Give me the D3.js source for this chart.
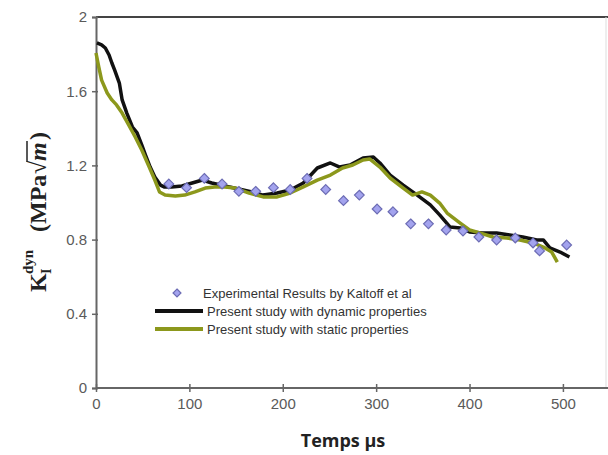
<!DOCTYPE html>
<html>
<head>
<meta charset="utf-8">
<script src="https://cdn.jsdelivr.net/npm/d3@7"></script>
<style>
  body { margin: 0; background: #fff; }
  svg { display: block; }
</style>
</head>
<body>
<svg id="chart" width="608" height="455"></svg>
<script>
// Experimental points (Kalthoff) : time in µs, K in MPa√m
const expTime = [78, 97, 116, 135, 153, 171, 190, 208, 226, 246, 265, 282, 301, 318, 337, 356, 375, 393, 410, 429, 449, 468, 475, 504];
const expK = [1.10, 1.08, 1.13, 1.10, 1.06, 1.06, 1.08, 1.07, 1.13, 1.07, 1.01, 1.04, 0.965, 0.95, 0.885, 0.885, 0.852, 0.846, 0.814, 0.798, 0.809, 0.782, 0.739, 0.771];

// Present study, dynamic properties
const dynTime = [1, 6, 10, 14, 17, 20, 25, 28, 33, 39, 44, 49, 53, 58, 63, 69, 73, 81, 92, 103, 114, 124, 138, 153, 167, 179, 194, 208, 222, 237, 251, 261, 272, 286, 297, 304, 315, 329, 344, 358, 368, 379, 390, 400, 414, 429, 443, 457, 472, 479, 486, 497, 507];
const dynK = [1.86, 1.85, 1.833, 1.795, 1.752, 1.714, 1.644, 1.553, 1.482, 1.407, 1.375, 1.31, 1.256, 1.191, 1.137, 1.094, 1.084, 1.084, 1.089, 1.105, 1.121, 1.105, 1.089, 1.073, 1.057, 1.04, 1.051, 1.067, 1.105, 1.186, 1.213, 1.191, 1.202, 1.24, 1.245, 1.213, 1.148, 1.094, 1.04, 0.987, 0.933, 0.868, 0.863, 0.841, 0.836, 0.836, 0.825, 0.814, 0.798, 0.798, 0.755, 0.733, 0.706];

// Present study, static properties
const staTime = [0, 3, 6, 12, 17, 22, 28, 35, 42, 49, 57, 63, 68, 74, 85, 95, 106, 117, 127, 138, 149, 164, 179, 194, 208, 222, 237, 251, 264, 275, 286, 293, 304, 315, 329, 339, 349, 358, 368, 376, 390, 400, 411, 425, 440, 454, 468, 479, 488, 494];
const staK = [1.806, 1.73, 1.66, 1.59, 1.553, 1.526, 1.482, 1.418, 1.353, 1.283, 1.191, 1.121, 1.057, 1.04, 1.035, 1.04, 1.057, 1.078, 1.084, 1.084, 1.078, 1.051, 1.03, 1.03, 1.051, 1.084, 1.121, 1.148, 1.186, 1.202, 1.229, 1.235, 1.191, 1.132, 1.078, 1.04, 1.057, 1.04, 0.997, 0.943, 0.889, 0.852, 0.836, 0.814, 0.809, 0.798, 0.782, 0.76, 0.733, 0.679];

const xTicks = [0, 100, 200, 300, 400, 500];
const yTicks = [0, 0.4, 0.8, 1.2, 1.6, 2];

const legendLabels = [
  "Experimental Results by Kaltoff et al",
  "Present study with dynamic properties",
  "Present study with static properties"
];

const svg = d3.select("#chart");
const plotLeft = 96, plotRight = 604, plotTop = 17, plotBottom = 388;

const x = d3.scaleLinear().domain([0, 544]).range([plotLeft, plotRight]);
const y = d3.scaleLinear().domain([0, 2]).range([plotBottom, plotTop]);

const darkGreen = "#8c981c";
const tickColor = "#5a5a5a";

// frame: top and right borders
svg.append("line")
  .attr("x1", plotLeft).attr("x2", 608)
  .attr("y1", plotTop).attr("y2", plotTop)
  .attr("stroke", "#444").attr("stroke-width", 2);
svg.append("line")
  .attr("x1", plotRight + 2).attr("x2", plotRight + 2)
  .attr("y1", plotTop).attr("y2", plotBottom)
  .attr("stroke", "#ddd").attr("stroke-width", 1);

// axes
const xAxis = svg.append("g")
  .attr("transform", `translate(0,${plotBottom})`)
  .call(d3.axisBottom(x).tickValues(xTicks).tickSize(4).tickPadding(6).tickFormat(d3.format("d")));
xAxis.select(".domain").attr("d", `M${plotLeft},0H608`);

const yAxis = svg.append("g")
  .attr("transform", `translate(${plotLeft},0)`)
  .call(d3.axisLeft(y).tickValues(yTicks).tickSize(4).tickPadding(5).tickFormat(d => d));

[xAxis, yAxis].forEach(a => {
  a.select(".domain").attr("stroke", "#666").attr("stroke-width", 2);
  a.selectAll(".tick line").attr("stroke", "#666").attr("stroke-width", 1.5);
  a.selectAll(".tick text")
    .attr("fill", tickColor)
    .style("font-family", "Arial, 'Liberation Sans', sans-serif")
    .style("font-size", "15px");
});
xAxis.selectAll(".tick line").attr("y1", -4);
yAxis.selectAll(".tick line").attr("x2", -4).attr("x1", 2);

// curves
const line = d3.line()
  .x(d => x(d[0]))
  .y(d => y(d[1]));

const staticData = staTime.map((t, i) => [t, staK[i]]);
const dynData = dynTime.map((t, i) => [t, dynK[i]]);

svg.append("path")
  .datum(dynData)
  .attr("d", line)
  .attr("fill", "none")
  .attr("stroke", "#111")
  .attr("stroke-width", 3.5)
  .attr("stroke-linejoin", "round");

svg.append("path")
  .datum(staticData)
  .attr("d", line)
  .attr("fill", "none")
  .attr("stroke", darkGreen)
  .attr("stroke-width", 3.5)
  .attr("stroke-linejoin", "round");

// experimental diamonds
const diamond = d3.symbol().type(d3.symbolDiamond2).size(60);
svg.selectAll(".exp")
  .data(expTime.map((t, i) => [t, expK[i]]))
  .join("path")
  .attr("class", "exp")
  .attr("d", diamond)
  .attr("transform", d => `translate(${x(d[0])},${y(d[1])})`)
  .attr("fill", "#a3a3ee")
  .attr("stroke", "#6c6cb4")
  .attr("stroke-width", 1.2);

// legend
const legend = svg.append("g").attr("transform", "translate(155,293)");
const legendFont = "Arial, 'Liberation Sans', sans-serif";

legend.append("path")
  .attr("d", d3.symbol().type(d3.symbolDiamond2).size(40))
  .attr("transform", "translate(22,0)")
  .attr("fill", "#a3a3ee")
  .attr("stroke", "#6c6cb4")
  .attr("stroke-width", 1.2);

legend.append("line")
  .attr("x1", 0).attr("x2", 48).attr("y1", 18).attr("y2", 18)
  .attr("stroke", "#111").attr("stroke-width", 4);
legend.append("line")
  .attr("x1", 0).attr("x2", 48).attr("y1", 36).attr("y2", 36)
  .attr("stroke", darkGreen).attr("stroke-width", 4);

legend.selectAll(".leg-text")
  .data(legendLabels)
  .join("text")
  .attr("class", "leg-text")
  .attr("x", (d, i) => i === 0 ? 48 : 52)
  .attr("y", (d, i) => i * 18)
  .attr("dy", "0.35em")
  .style("font-family", legendFont)
  .style("font-size", "13px")
  .attr("fill", "#333")
  .text(d => d);

// x axis title
svg.append("text")
  .attr("x", 343)
  .attr("y", 447)
  .attr("text-anchor", "middle")
  .style("font-family", "'Open Sans', sans-serif")
  .style("font-size", "18px")
  .style("font-weight", "bold")
  .attr("fill", "#222")
  .text("Temps \u00b5s");

// y axis title : K_I^dyn (MPa√m)
const yt = svg.append("g")
  .attr("transform", "translate(46,292) rotate(-90)")
  .style("font-family", "'Liberation Serif', 'Times New Roman', serif")
  .style("font-weight", "bold")
  .attr("fill", "#222");

yt.append("text").attr("x", 0).attr("y", 0).style("font-size", "24px").text("K");
yt.append("text").attr("x", 18).attr("y", -13).style("font-size", "15px").text("dyn");
yt.append("text").attr("x", 18).attr("y", 5).style("font-size", "14px").text("I");
yt.append("text").attr("x", 60).attr("y", 0).style("font-size", "24px").text("(MPa");
yt.append("text").attr("x", 118).attr("y", 0).style("font-size", "24px").style("font-weight", "normal").text("\u221a");
yt.append("text").attr("x", 131).attr("y", 0).style("font-size", "24px").style("font-style", "italic").text("m");
yt.append("line")
  .attr("x1", 130).attr("x2", 151).attr("y1", -19).attr("y2", -19)
  .attr("stroke", "#222").attr("stroke-width", 1.5);
yt.append("text").attr("x", 152).attr("y", 0).style("font-size", "24px").text(")");
</script>
</body>
</html>
